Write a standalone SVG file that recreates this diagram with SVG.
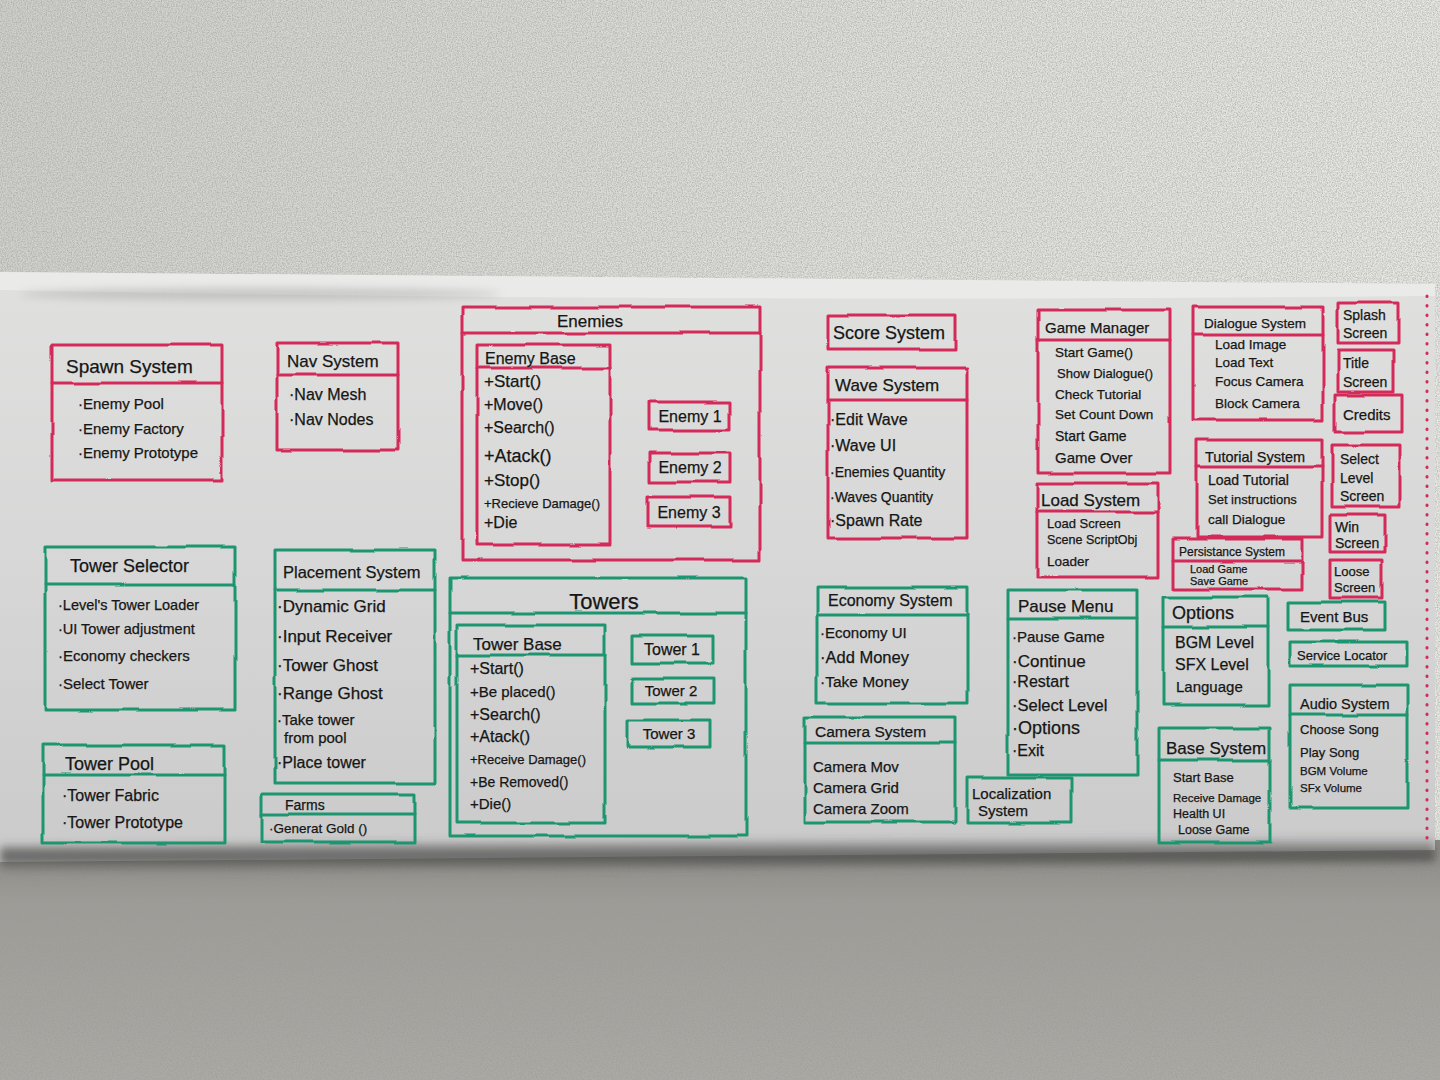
<svg xmlns="http://www.w3.org/2000/svg" width="1440" height="1080" viewBox="0 0 1440 1080">
  <defs>
    <linearGradient id="wallTop" x1="0" y1="0" x2="1" y2="0.3">
      <stop offset="0" stop-color="#cfd0cc"/>
      <stop offset="0.6" stop-color="#e0e0dc"/>
      <stop offset="1" stop-color="#e8e8e4"/>
    </linearGradient>
    <linearGradient id="wallBottom" x1="0" y1="0" x2="0" y2="1">
      <stop offset="0" stop-color="#85847f"/>
      <stop offset="0.25" stop-color="#9d9c97"/>
      <stop offset="1" stop-color="#acaba6"/>
    </linearGradient>
    <linearGradient id="paper" x1="0" y1="0" x2="0" y2="1">
      <stop offset="0" stop-color="#e0e1df"/>
      <stop offset="0.5" stop-color="#d6d7d6"/>
      <stop offset="1" stop-color="#c9cac9"/>
    </linearGradient>
    <linearGradient id="curl" x1="0" y1="0" x2="0" y2="1">
      <stop offset="0" stop-color="#3f3f3d" stop-opacity="0"/>
      <stop offset="0.55" stop-color="#4a4a48" stop-opacity="0.85"/>
      <stop offset="1" stop-color="#5e5d5a" stop-opacity="0"/>
    </linearGradient>
    <!-- plaster texture for the lower wall -->
    <filter id="grain" filterUnits="userSpaceOnUse" x="0" y="0" width="1440" height="1080">
      <feTurbulence type="fractalNoise" baseFrequency="0.8" numOctaves="2" seed="4"/>
      <feColorMatrix type="matrix" values="0 0 0 0 0.32  0 0 0 0 0.32  0 0 0 0 0.3  0 0 0 2.2 -0.75"/>
    </filter>
    <!-- marker wobble for the drawn boxes -->
    <filter id="wob" filterUnits="userSpaceOnUse" x="0" y="0" width="1440" height="1080">
      <feTurbulence type="fractalNoise" baseFrequency="0.018" numOctaves="2" seed="7" result="n"/>
      <feDisplacementMap in="SourceGraphic" in2="n" scale="4" xChannelSelector="R" yChannelSelector="G"/>
    </filter>
    <filter id="soft" x="-10%" y="-200%" width="120%" height="500%">
      <feGaussianBlur stdDeviation="4"/>
    </filter>
    <style>
      .box { fill: none; stroke-width: 3; stroke-linejoin: round; stroke-linecap: round; filter: url(#wob); }
      .red { stroke: #d42a5a; }
      .grn { stroke: #1f9670; }
      text { font-family: "Liberation Sans", Arial, sans-serif; fill: #161616; stroke: #161616; stroke-width: 0.25px; }
      .h { font-size: 17px; }
      .t { font-size: 15px; }
      .c { text-anchor: middle; }
    </style>
  </defs>

  <!-- wall and banner -->
  <rect x="0" y="0" width="1440" height="1080" fill="url(#wallTop)"/>
  <rect x="0" y="840" width="1440" height="240" fill="url(#wallBottom)"/>
  <rect x="0" y="840" width="1440" height="240" filter="url(#grain)" opacity="0.55"/>
  <path d="M0,272 L1435,284 L1435,850 L0,862 Z" fill="url(#paper)"/>
  <path d="M0,272 L1435,284 L1435,296 C1000,300 500,300 0,290 Z" fill="#ececea" opacity="0.8"/>
  <ellipse cx="260" cy="294" rx="240" ry="6" fill="#9d9e9b" opacity="0.45" filter="url(#soft)"/>
  <path d="M0,846 L1435,836 L1435,862 L0,874 Z" fill="url(#curl)" filter="url(#soft)"/>
  <line x1="1427" y1="296" x2="1427" y2="845" stroke="#d42a5a" stroke-width="3" stroke-linecap="round" stroke-dasharray="0.5 9"/>

  <g id="connectors"/>

  <!-- red: enemy side -->
  <g id="spawn-system">
    <rect class="box red" x="52" y="345" width="170" height="135"/>
    <line class="box red" x1="52" y1="383" x2="222" y2="383"/>
    <text class="h" x="66" y="373" style="font-size:19px">Spawn System</text>
    <text class="t" x="78" y="409">·Enemy Pool</text>
    <text class="t" x="78" y="434">·Enemy Factory</text>
    <text class="t" x="78" y="458">·Enemy Prototype</text>
  </g>

  <g id="nav-system">
    <rect class="box red" x="277" y="343" width="121" height="107"/>
    <line class="box red" x1="277" y1="375" x2="398" y2="375"/>
    <text class="h" x="287" y="367">Nav System</text>
    <text class="t" x="289" y="400" style="font-size:16px">·Nav Mesh</text>
    <text class="t" x="289" y="425" style="font-size:16px">·Nav Nodes</text>
  </g>

  <g id="enemies">
    <rect class="box red" x="462" y="307" width="298" height="253"/>
    <line class="box red" x1="462" y1="333" x2="760" y2="333"/>
    <text class="h c" x="590" y="327">Enemies</text>
  </g>
  <g id="enemy-base">
    <rect class="box red" x="477" y="345" width="133" height="200"/>
    <line class="box red" x1="477" y1="368" x2="610" y2="368"/>
    <text class="h" x="485" y="364" style="font-size:16px">Enemy Base</text>
    <text class="t" x="484" y="387" style="font-size:17px">+Start()</text>
    <text class="t" x="484" y="410" style="font-size:16px">+Move()</text>
    <text class="t" x="484" y="433" style="font-size:16px">+Search()</text>
    <text class="t" x="484" y="462" style="font-size:18px">+Atack()</text>
    <text class="t" x="484" y="486" style="font-size:17px">+Stop()</text>
    <text class="t" x="484" y="508" style="font-size:13px">+Recieve Damage()</text>
    <text class="t" x="484" y="528" style="font-size:16px">+Die</text>
  </g>
  <g id="enemy-1">
    <rect class="box red" x="650" y="402" width="80" height="28"/>
    <text class="t c" x="690" y="422" style="font-size:16px">Enemy 1</text>
  </g>
  <g id="enemy-2">
    <rect class="box red" x="650" y="453" width="80" height="29"/>
    <text class="t c" x="690" y="473" style="font-size:16px">Enemy 2</text>
  </g>
  <g id="enemy-3">
    <rect class="box red" x="648" y="497" width="82" height="30"/>
    <text class="t c" x="689" y="518" style="font-size:16px">Enemy 3</text>
  </g>

  <g id="score-system">
    <rect class="box red" x="828" y="315" width="127" height="35"/>
    <text class="h" x="833" y="339" style="font-size:18px">Score System</text>
  </g>
  <g id="wave-system">
    <rect class="box red" x="828" y="368" width="139" height="170"/>
    <line class="box red" x1="828" y1="400" x2="967" y2="400"/>
    <text class="h" x="835" y="391">Wave System</text>
    <text class="t" x="830" y="425" style="font-size:16px">·Edit Wave</text>
    <text class="t" x="830" y="451" style="font-size:16px">·Wave UI</text>
    <text class="t" x="830" y="477" style="font-size:14px">·Enemies Quantity</text>
    <text class="t" x="830" y="502" style="font-size:14px">·Waves Quantity</text>
    <text class="t" x="830" y="526" style="font-size:16px">·Spawn Rate</text>
  </g>

  <g id="game-manager">
    <rect class="box red" x="1038" y="310" width="132" height="163"/>
    <line class="box red" x1="1038" y1="340" x2="1170" y2="340"/>
    <text class="h" x="1045" y="333" style="font-size:15px">Game Manager</text>
    <text class="t" x="1055" y="357" style="font-size:13.5px">Start Game()</text>
    <text class="t" x="1057" y="378" style="font-size:13px">Show Dialogue()</text>
    <text class="t" x="1055" y="399" style="font-size:13.5px">Check Tutorial</text>
    <text class="t" x="1055" y="419" style="font-size:13.5px">Set Count Down</text>
    <text class="t" x="1055" y="441" style="font-size:14px">Start Game</text>
    <text class="t" x="1055" y="463" style="font-size:15px">Game Over</text>
  </g>
  <g id="load-system">
    <rect class="box red" x="1037" y="483" width="121" height="94"/>
    <line class="box red" x1="1037" y1="512" x2="1158" y2="512"/>
    <text class="h" x="1041" y="506">Load System</text>
    <text class="t" x="1047" y="528" style="font-size:13px">Load Screen</text>
    <text class="t" x="1047" y="544" style="font-size:12.5px">Scene ScriptObj</text>
    <text class="t" x="1047" y="566" style="font-size:13.5px">Loader</text>
  </g>
  <g id="dialogue-system">
    <rect class="box red" x="1193" y="307" width="130" height="113"/>
    <line class="box red" x1="1193" y1="335" x2="1323" y2="335"/>
    <text class="h" x="1204" y="328" style="font-size:13.5px">Dialogue System</text>
    <text class="t" x="1215" y="349" style="font-size:13.5px">Load Image</text>
    <text class="t" x="1215" y="367" style="font-size:13.5px">Load Text</text>
    <text class="t" x="1215" y="386" style="font-size:13.5px">Focus Camera</text>
    <text class="t" x="1215" y="408" style="font-size:13.5px">Block Camera</text>
  </g>
  <g id="tutorial-system">
    <rect class="box red" x="1197" y="440" width="125" height="97"/>
    <line class="box red" x1="1197" y1="467" x2="1322" y2="467"/>
    <text class="h" x="1205" y="462" style="font-size:14.5px">Tutorial System</text>
    <text class="t" x="1208" y="485" style="font-size:14px">Load Tutorial</text>
    <text class="t" x="1208" y="504" style="font-size:13px">Set instructions</text>
    <text class="t" x="1208" y="524" style="font-size:13.5px">call Dialogue</text>
  </g>
  <g id="persistance-system">
    <rect class="box red" x="1173" y="539" width="130" height="50"/>
    <line class="box red" x1="1173" y1="561" x2="1303" y2="561"/>
    <text class="h" x="1179" y="556" style="font-size:12px">Persistance System</text>
    <text class="t" x="1190" y="573" style="font-size:11px">Load Game</text>
    <text class="t" x="1190" y="585" style="font-size:11px">Save Game</text>
  </g>

  <g id="splash-screen">
    <rect class="box red" x="1338" y="303" width="60" height="40"/>
    <text class="t" x="1343" y="320" style="font-size:14px">Splash</text>
    <text class="t" x="1343" y="338" style="font-size:14px">Screen</text>
  </g>
  <g id="title-screen">
    <rect class="box red" x="1338" y="350" width="55" height="42"/>
    <text class="t" x="1343" y="368" style="font-size:14px">Title</text>
    <text class="t" x="1343" y="387" style="font-size:14px">Screen</text>
  </g>
  <g id="credits">
    <rect class="box red" x="1335" y="395" width="67" height="37"/>
    <text class="t" x="1343" y="420" style="font-size:15px">Credits</text>
  </g>
  <g id="select-level-screen">
    <rect class="box red" x="1332" y="445" width="68" height="62"/>
    <text class="t" x="1340" y="464" style="font-size:14px">Select</text>
    <text class="t" x="1340" y="483" style="font-size:14px">Level</text>
    <text class="t" x="1340" y="501" style="font-size:14px">Screen</text>
  </g>
  <g id="win-screen">
    <rect class="box red" x="1330" y="515" width="55" height="37"/>
    <text class="t" x="1335" y="532" style="font-size:14px">Win</text>
    <text class="t" x="1335" y="548" style="font-size:14px">Screen</text>
  </g>
  <g id="loose-screen">
    <rect class="box red" x="1330" y="560" width="52" height="38"/>
    <text class="t" x="1334" y="576" style="font-size:13px">Loose</text>
    <text class="t" x="1334" y="592" style="font-size:13px">Screen</text>
  </g>

  <!-- green: tower side and shared services -->
  <g id="tower-selector">
    <rect class="box grn" x="45" y="547" width="190" height="163"/>
    <line class="box grn" x1="45" y1="585" x2="235" y2="585"/>
    <text class="h" x="70" y="572" style="font-size:18px">Tower Selector</text>
    <text class="t" x="58" y="610" style="font-size:14.5px">·Level's Tower Loader</text>
    <text class="t" x="58" y="634" style="font-size:14.5px">·UI Tower adjustment</text>
    <text class="t" x="58" y="661" style="font-size:15px">·Economy checkers</text>
    <text class="t" x="58" y="689" style="font-size:15px">·Select Tower</text>
  </g>
  <g id="tower-pool">
    <rect class="box grn" x="43" y="745" width="182" height="98"/>
    <line class="box grn" x1="43" y1="775" x2="225" y2="775"/>
    <text class="h" x="65" y="770" style="font-size:18px">Tower Pool</text>
    <text class="t" x="62" y="801" style="font-size:16px">·Tower Fabric</text>
    <text class="t" x="62" y="828" style="font-size:16px">·Tower Prototype</text>
  </g>
  <g id="placement-system">
    <rect class="box grn" x="275" y="550" width="160" height="233"/>
    <line class="box grn" x1="275" y1="590" x2="435" y2="590"/>
    <text class="h" x="283" y="578" style="font-size:16.5px">Placement System</text>
    <text class="t" x="277" y="612" style="font-size:17px">·Dynamic Grid</text>
    <text class="t" x="277" y="642" style="font-size:17px">·Input Receiver</text>
    <text class="t" x="277" y="671" style="font-size:17px">·Tower Ghost</text>
    <text class="t" x="277" y="699" style="font-size:17px">·Range Ghost</text>
    <text class="t" x="277" y="725" style="font-size:15px">·Take tower</text>
    <text class="t" x="284" y="743" style="font-size:15px">from pool</text>
    <text class="t" x="277" y="768" style="font-size:16px">·Place tower</text>
  </g>
  <g id="farms">
    <rect class="box grn" x="262" y="794" width="153" height="48"/>
    <line class="box grn" x1="262" y1="814" x2="415" y2="814"/>
    <text class="h" x="285" y="810" style="font-size:14px">Farms</text>
    <text class="t" x="269" y="833" style="font-size:13.5px">·Generat Gold ()</text>
  </g>

  <g id="towers">
    <rect class="box grn" x="450" y="578" width="296" height="258"/>
    <line class="box grn" x1="450" y1="613" x2="746" y2="613"/>
    <text class="h c" x="604" y="609" style="font-size:22px">Towers</text>
  </g>
  <g id="tower-base">
    <rect class="box grn" x="457" y="625" width="148" height="198"/>
    <line class="box grn" x1="457" y1="655" x2="605" y2="655"/>
    <text class="h" x="473" y="650">Tower Base</text>
    <text class="t" x="470" y="674" style="font-size:16px">+Start()</text>
    <text class="t" x="470" y="697" style="font-size:15px">+Be placed()</text>
    <text class="t" x="470" y="720" style="font-size:16px">+Search()</text>
    <text class="t" x="470" y="742" style="font-size:16px">+Atack()</text>
    <text class="t" x="470" y="764" style="font-size:13px">+Receive Damage()</text>
    <text class="t" x="470" y="787" style="font-size:14px">+Be Removed()</text>
    <text class="t" x="470" y="809" style="font-size:15px">+Die()</text>
  </g>
  <g id="tower-1">
    <rect class="box grn" x="632" y="635" width="81" height="28"/>
    <text class="t c" x="672" y="655" style="font-size:16px">Tower 1</text>
  </g>
  <g id="tower-2">
    <rect class="box grn" x="632" y="678" width="81" height="25"/>
    <text class="t c" x="671" y="696" style="font-size:15px">Tower 2</text>
  </g>
  <g id="tower-3">
    <rect class="box grn" x="628" y="720" width="82" height="27"/>
    <text class="t c" x="669" y="739" style="font-size:15px">Tower 3</text>
  </g>

  <g id="economy-system">
    <rect class="box grn" x="817" y="588" width="151" height="115"/>
    <line class="box grn" x1="817" y1="615" x2="968" y2="615"/>
    <text class="h" x="828" y="606" style="font-size:16px">Economy System</text>
    <text class="t" x="820" y="638" style="font-size:15px">·Economy UI</text>
    <text class="t" x="820" y="663" style="font-size:16.5px">·Add Money</text>
    <text class="t" x="820" y="687" style="font-size:15.5px">·Take Money</text>
  </g>
  <g id="camera-system">
    <rect class="box grn" x="805" y="717" width="150" height="105"/>
    <line class="box grn" x1="805" y1="743" x2="955" y2="743"/>
    <text class="h" x="815" y="737" style="font-size:15.5px">Camera System</text>
    <text class="t" x="813" y="772">Camera Mov</text>
    <text class="t" x="813" y="793">Camera Grid</text>
    <text class="t" x="813" y="814">Camera Zoom</text>
  </g>
  <g id="localization-system">
    <rect class="box grn" x="967" y="778" width="105" height="45"/>
    <text class="t" x="972" y="799">Localization</text>
    <text class="t" x="978" y="816">System</text>
  </g>
  <g id="pause-menu">
    <rect class="box grn" x="1008" y="590" width="129" height="185"/>
    <line class="box grn" x1="1008" y1="618" x2="1137" y2="618"/>
    <text class="h" x="1018" y="612">Pause Menu</text>
    <text class="t" x="1012" y="642" style="font-size:15px">·Pause Game</text>
    <text class="t" x="1012" y="667" style="font-size:17px">·Continue</text>
    <text class="t" x="1012" y="687" style="font-size:16px">·Restart</text>
    <text class="t" x="1012" y="711" style="font-size:16.5px">·Select Level</text>
    <text class="t" x="1012" y="734" style="font-size:18px">·Options</text>
    <text class="t" x="1012" y="756" style="font-size:16px">·Exit</text>
  </g>
  <g id="options">
    <rect class="box grn" x="1163" y="597" width="105" height="108"/>
    <line class="box grn" x1="1163" y1="627" x2="1268" y2="627"/>
    <text class="h" x="1172" y="619" style="font-size:18px">Options</text>
    <text class="t" x="1175" y="648" style="font-size:16px">BGM Level</text>
    <text class="t" x="1175" y="670" style="font-size:16px">SFX Level</text>
    <text class="t" x="1176" y="692" style="font-size:15px">Language</text>
  </g>
  <g id="base-system">
    <rect class="box grn" x="1159" y="728" width="111" height="114"/>
    <line class="box grn" x1="1159" y1="760" x2="1270" y2="760"/>
    <text class="h" x="1166" y="754">Base System</text>
    <text class="t" x="1173" y="782" style="font-size:13px">Start Base</text>
    <text class="t" x="1173" y="802" style="font-size:11.5px">Receive Damage</text>
    <text class="t" x="1173" y="818" style="font-size:12.5px">Health UI</text>
    <text class="t" x="1178" y="834" style="font-size:12.5px">Loose Game</text>
  </g>
  <g id="event-bus">
    <rect class="box grn" x="1288" y="602" width="97" height="28"/>
    <text class="t" x="1300" y="622">Event Bus</text>
  </g>
  <g id="service-locator">
    <rect class="box grn" x="1290" y="642" width="117" height="24"/>
    <text class="t" x="1297" y="660" style="font-size:13px">Service Locator</text>
  </g>
  <g id="audio-system">
    <rect class="box grn" x="1290" y="685" width="118" height="123"/>
    <line class="box grn" x1="1290" y1="715" x2="1408" y2="715"/>
    <text class="h" x="1300" y="709" style="font-size:14.5px">Audio System</text>
    <text class="t" x="1300" y="734" style="font-size:13px">Choose Song</text>
    <text class="t" x="1300" y="757" style="font-size:13px">Play Song</text>
    <text class="t" x="1300" y="775" style="font-size:11.5px">BGM Volume</text>
    <text class="t" x="1300" y="792" style="font-size:11.5px">SFx Volume</text>
  </g>
</svg>
